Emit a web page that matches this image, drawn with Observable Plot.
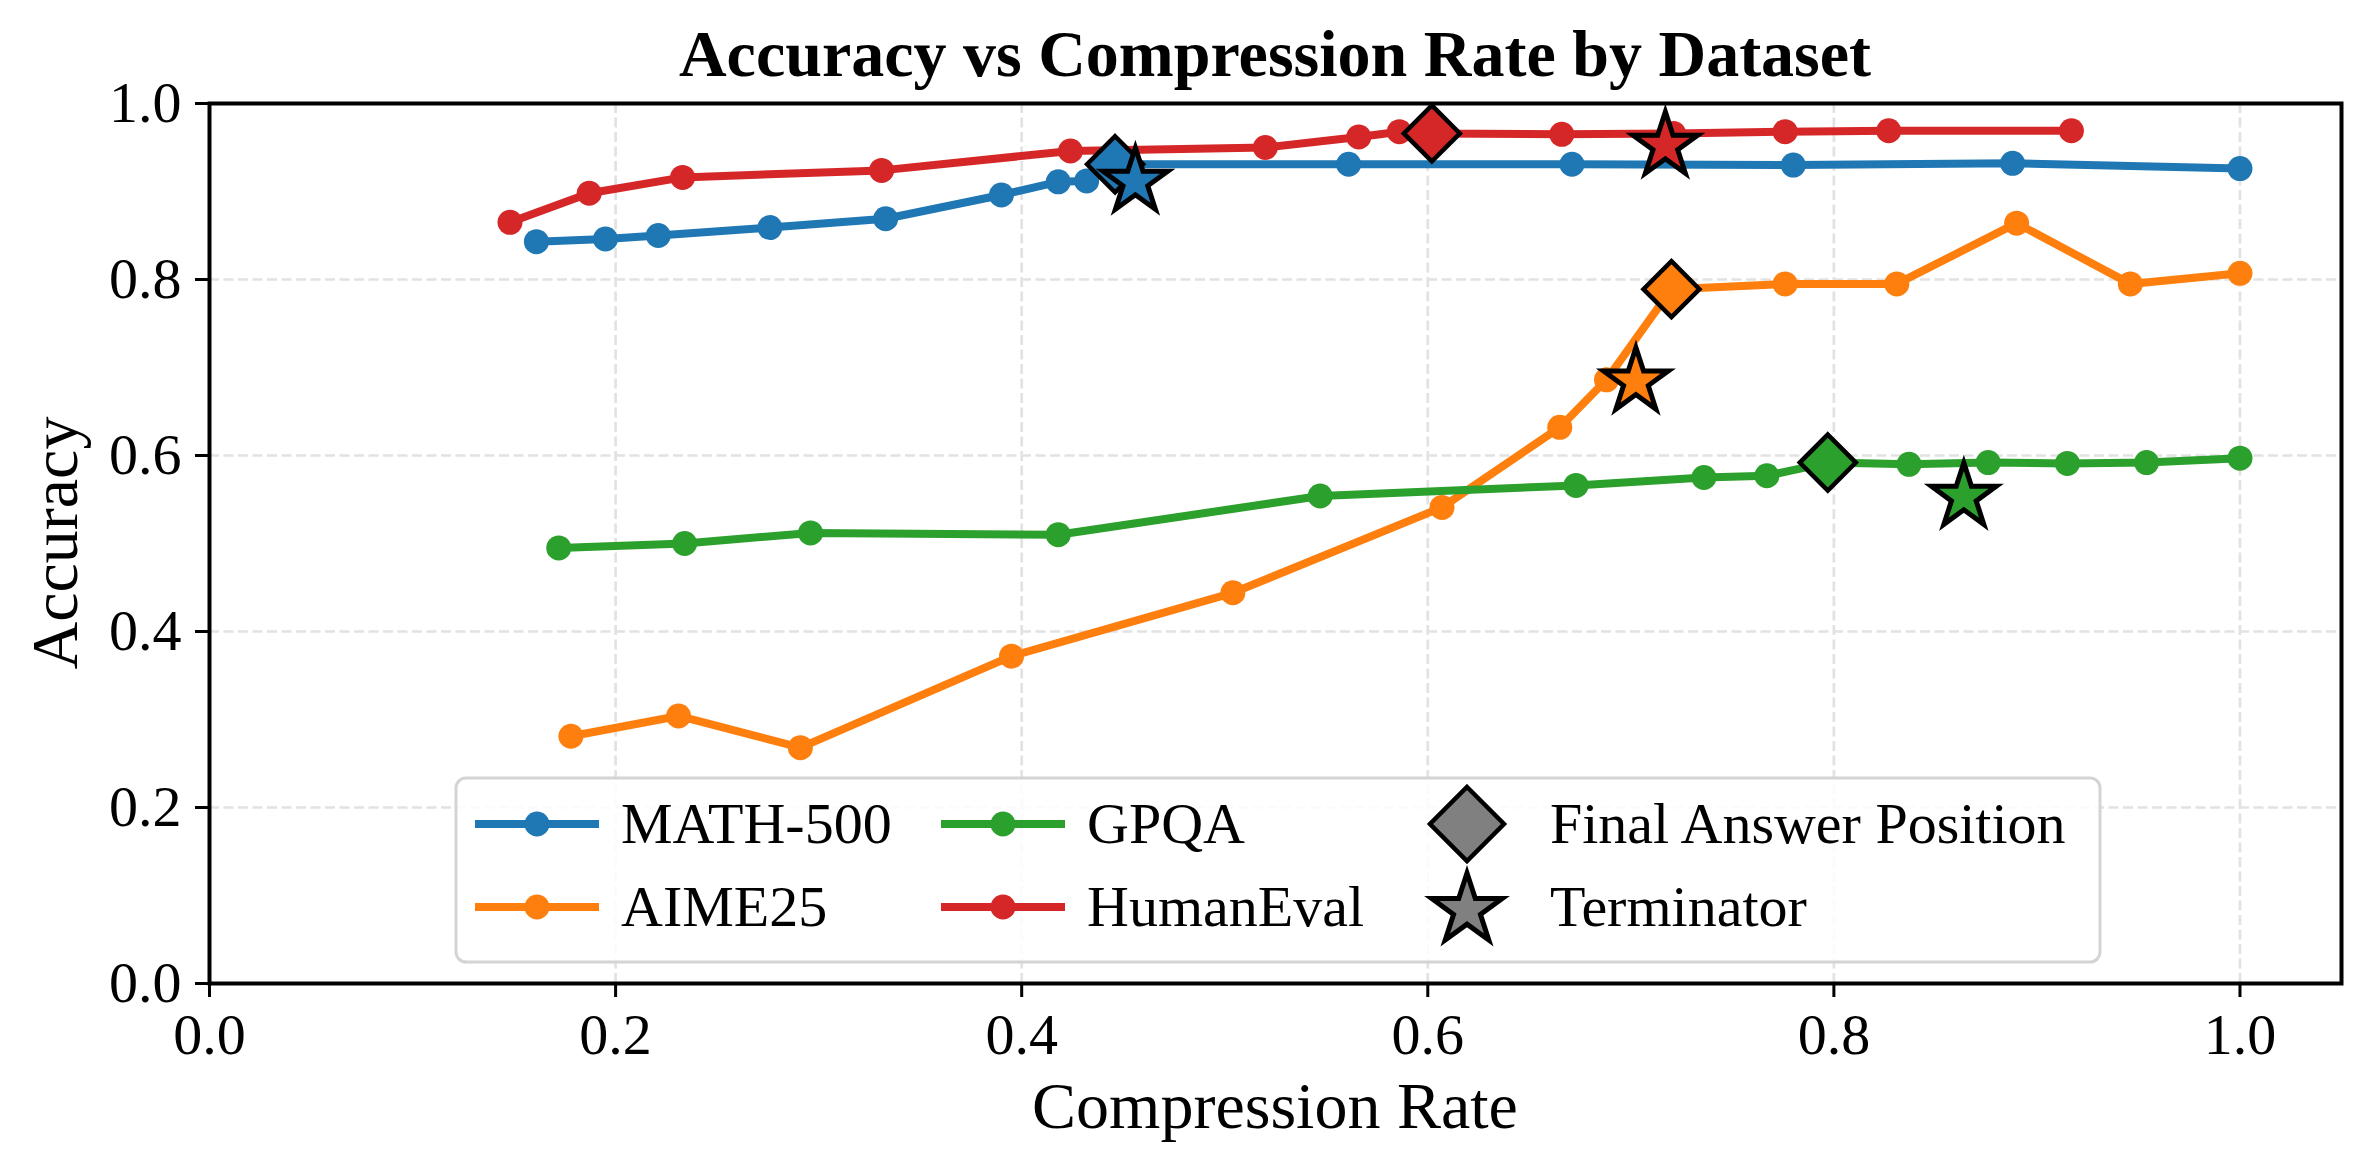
<!DOCTYPE html>
<html><head><meta charset="utf-8">
<script src="https://cdn.jsdelivr.net/npm/d3@7"></script>
<script src="https://cdn.jsdelivr.net/npm/@observablehq/plot@0.6"></script>
<style>
html,body{margin:0;padding:0;background:#fff;}
#wrap{position:relative;width:2371px;height:1173px;}
#wrap svg.overlay{position:absolute;left:0;top:0;pointer-events:none;}
</style></head><body><div id="wrap"></div>
<script>
// ---- data ----
const seriesNames = ["MATH-500", "AIME25", "GPQA", "HumanEval"];
const seriesColors = ["#1f77b4", "#ff7f0e", "#2ca02c", "#d62728"];

const math500X = [0.161, 0.195, 0.221, 0.276, 0.333, 0.390, 0.418, 0.432, 0.446, 0.561, 0.671, 0.780, 0.888, 1.000];
const math500Y = [0.843, 0.846, 0.850, 0.859, 0.869, 0.896, 0.911, 0.912, 0.931, 0.931, 0.931, 0.930, 0.932, 0.926];

const aime25X = [0.178, 0.231, 0.291, 0.395, 0.504, 0.607, 0.665, 0.688, 0.720, 0.776, 0.831, 0.890, 0.946, 1.000];
const aime25Y = [0.281, 0.304, 0.268, 0.372, 0.444, 0.541, 0.632, 0.686, 0.789, 0.795, 0.795, 0.864, 0.795, 0.807];

const gpqaX = [0.172, 0.234, 0.296, 0.418, 0.547, 0.673, 0.736, 0.767, 0.797, 0.837, 0.876, 0.915, 0.954, 1.000];
const gpqaY = [0.495, 0.500, 0.512, 0.510, 0.554, 0.566, 0.575, 0.577, 0.592, 0.590, 0.592, 0.591, 0.592, 0.597];

const humanEvalX = [0.148, 0.187, 0.233, 0.331, 0.424, 0.520, 0.566, 0.586, 0.602, 0.666, 0.721, 0.776, 0.827, 0.917];
const humanEvalY = [0.865, 0.898, 0.916, 0.924, 0.946, 0.950, 0.962, 0.968, 0.966, 0.965, 0.966, 0.968, 0.969, 0.969];

// Final answer position (diamond) and Terminator (star), per dataset in seriesNames order
const finalAnswerX = [0.446, 0.720, 0.797, 0.602];
const finalAnswerY = [0.931, 0.789, 0.592, 0.966];
const terminatorX = [0.456, 0.7025, 0.864, 0.717];
const terminatorY = [0.911, 0.684, 0.553, 0.952];

const xTicks = [0.0, 0.2, 0.4, 0.6, 0.8, 1.0];
const yTicks = [0.0, 0.2, 0.4, 0.6, 0.8, 1.0];

const titleText = "Accuracy vs Compression Rate by Dataset";
const xLabel = "Compression Rate";
const yLabel = "Accuracy";
const markerLegend = ["Final Answer Position", "Terminator"];

// ---- build tables ----
const seriesX = [math500X, aime25X, gpqaX, humanEvalX];
const seriesY = [math500Y, aime25Y, gpqaY, humanEvalY];
const series = seriesNames.map((name, i) => ({
  name, color: seriesColors[i],
  data: seriesX[i].map((x, j) => ({x, y: seriesY[i][j]}))
}));
const finals = seriesNames.map((name, i) => ({x: finalAnswerX[i], y: finalAnswerY[i], color: seriesColors[i]}));
const terms = seriesNames.map((name, i) => ({x: terminatorX[i], y: terminatorY[i], color: seriesColors[i]}));

const diamondSym = {draw(ctx, size) {
  const r = Math.sqrt(size / Math.PI);
  ctx.moveTo(0, -r); ctx.lineTo(r, 0); ctx.lineTo(0, r); ctx.lineTo(-r, 0); ctx.closePath();
}};
const starSym = {draw(ctx, size) {
  const R = Math.sqrt(size / Math.PI), ri = R * 0.381966;
  for (let k = 0; k < 10; k++) {
    const a = -Math.PI / 2 + k * Math.PI / 5, rr = k % 2 ? ri : R;
    const px = rr * Math.cos(a), py = rr * Math.sin(a);
    if (k === 0) ctx.moveTo(px, py); else ctx.lineTo(px, py);
  }
  ctx.closePath();
}};

const W = 2371, H = 1173;
const mL = 209, mR = 30, mT = 103, mB = 190;
const font = "'Liberation Serif', 'Times New Roman', serif";

const marks = [
  Plot.gridX({ticks: xTicks.slice(1), stroke: "#e2e2e2", strokeOpacity: 1, strokeWidth: 2.7, strokeDasharray: "10,4.5"}),
  Plot.gridY({ticks: yTicks.slice(1, -1), stroke: "#e2e2e2", strokeOpacity: 1, strokeWidth: 2.7, strokeDasharray: "10,4.5"})
];
series.forEach(s => {
  marks.push(Plot.line(s.data, {x: "x", y: "y", stroke: s.color, strokeWidth: 8, strokeLinejoin: "round"}));
  marks.push(Plot.dot(s.data, {x: "x", y: "y", fill: s.color, r: 12.5}));
});
marks.push(Plot.dot(finals, {x: "x", y: "y", fill: "color", stroke: "black", strokeWidth: 4.5, symbol: diamondSym, r: 28}));
marks.push(Plot.dot(terms, {x: "x", y: "y", fill: "color", stroke: "black", strokeWidth: 5, symbol: starSym, r: 34}));
marks.push(Plot.frame({stroke: "black", strokeWidth: 4}));
marks.push(Plot.axisX({ticks: xTicks, tickFormat: d3.format(".1f"), tickSize: 14, tickPadding: 15, strokeWidth: 3, fontSize: 58, label: null}));
marks.push(Plot.axisY({ticks: yTicks, tickFormat: d3.format(".1f"), tickSize: 14, tickPadding: 14, strokeWidth: 3, fontSize: 58, label: null}));

const chart = Plot.plot({
  width: W, height: H,
  marginLeft: mL, marginRight: mR, marginTop: mT, marginBottom: mB,
  x: {domain: [0, 1.05]},
  y: {domain: [0, 1.0]},
  color: {type: "identity"},
  style: {fontFamily: font, background: "white", color: "black", overflow: "visible"},
  marks
});
const wrap = document.getElementById("wrap");
wrap.appendChild(chart);

// ---- overlay: title, axis labels, legend ----
const ov = d3.select(wrap).append("svg").attr("class", "overlay")
  .attr("width", W).attr("height", H).attr("font-family", font);
const cx = mL + (W - mL - mR) / 2;
const cy = mT + (H - mT - mB) / 2;
ov.append("text").attr("x", cx).attr("y", 76).attr("text-anchor", "middle")
  .attr("font-size", 66).attr("font-weight", "bold").text(titleText);
ov.append("text").attr("x", cx).attr("y", 1128).attr("text-anchor", "middle")
  .attr("font-size", 66).text(xLabel);
ov.append("text").attr("transform", `translate(77,${cy}) rotate(-90)`).attr("text-anchor", "middle")
  .attr("font-size", 66).text(yLabel);

// legend box
const lg = ov.append("g");
lg.append("rect").attr("x", 456).attr("y", 778).attr("width", 1644).attr("height", 184)
  .attr("rx", 10).attr("fill", "white").attr("fill-opacity", 0.85)
  .attr("stroke", "#d4d4d4").attr("stroke-width", 3);
const rowsY = [824, 907];
const colX = [475, 941];
// series entries: column-major order (MATH-500, AIME25 | GPQA, HumanEval)
series.forEach((s, i) => {
  const col = Math.floor(i / 2), row = i % 2;
  const x0 = colX[col], y0 = rowsY[row];
  lg.append("line").attr("x1", x0).attr("x2", x0 + 124).attr("y1", y0).attr("y2", y0)
    .attr("stroke", s.color).attr("stroke-width", 8);
  lg.append("circle").attr("cx", x0 + 62).attr("cy", y0).attr("r", 12.5).attr("fill", s.color);
  lg.append("text").attr("x", x0 + 146).attr("y", y0 + 19).attr("font-size", 58).text(s.name);
});
const symPath = (sym, r) => { const p = d3.path(); sym.draw(p, r * r * Math.PI); return p.toString(); };
lg.append("path").attr("d", symPath(diamondSym, 37)).attr("transform", `translate(1467,${rowsY[0]})`)
  .attr("fill", "#808080").attr("stroke", "black").attr("stroke-width", 4.5);
lg.append("path").attr("d", symPath(starSym, 37)).attr("transform", `translate(1467,${rowsY[1] + 3})`)
  .attr("fill", "#808080").attr("stroke", "black").attr("stroke-width", 5);
markerLegend.forEach((t, i) => {
  lg.append("text").attr("x", 1550).attr("y", rowsY[i] + 19).attr("font-size", 58).text(t);
});
</script></body></html>
